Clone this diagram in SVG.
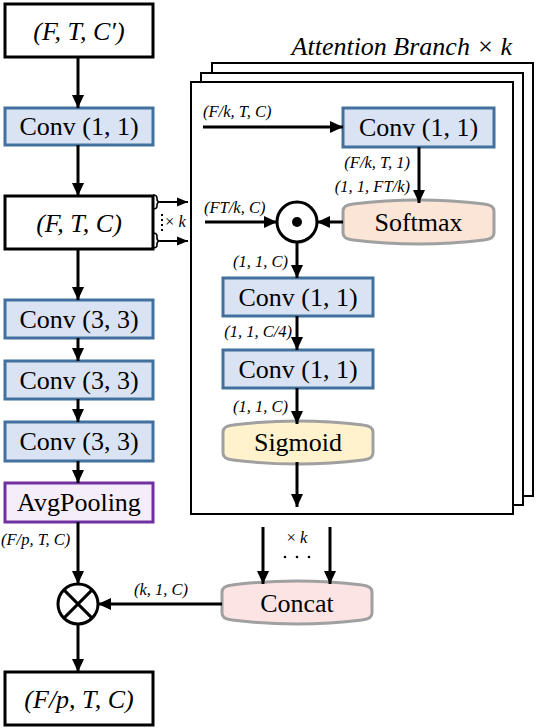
<svg xmlns="http://www.w3.org/2000/svg" width="536" height="728" viewBox="0 0 536 728">
<style>
.t{font-size:26px;fill:#000}
.i{font-style:italic}
.s{font-size:16.5px;font-style:italic;fill:#000}
.bx{fill:#fff;stroke:#000;stroke-width:3}
.conv{fill:#dae3f3;stroke:#41719c;stroke-width:3}
.pool{fill:#f5eefa;stroke:#7030a0;stroke-width:3}
.pg{fill:#fff;stroke:#000;stroke-width:2}
.ln{fill:none;stroke:#000;stroke-width:3}
.ar{fill:none;stroke:#000;stroke-width:3;marker-end:url(#ah)}
.ar2{fill:none;stroke:#000;stroke-width:2;marker-end:url(#ah2)}
.pill{stroke:#a0a0a0;stroke-width:3}
</style>
<defs>
<marker id="ah" markerUnits="userSpaceOnUse" markerWidth="14" markerHeight="14" viewBox="0 0 14 14" refX="13" refY="7" orient="auto">
<path d="M0,1 L13,7 L0,13 Z" fill="#000"/>
</marker>
<marker id="ah2" markerUnits="userSpaceOnUse" markerWidth="12" markerHeight="12" viewBox="0 0 12 12" refX="11" refY="6" orient="auto">
<path d="M0,1.5 L11,6 L0,10.5 Z" fill="#000"/>
</marker>
</defs>
<rect width="536" height="728" fill="#fff"/>
<g font-family="Liberation Serif, Tinos, Noto Serif, DejaVu Serif, FreeSerif, Times New Roman, Times, serif">

<g id="attention-branch-pages">
<rect class="pg" x="212" y="63" width="321" height="433"/>
<rect class="pg" x="201" y="73" width="322" height="432"/>
<rect class="pg" x="191" y="82" width="322" height="432"/>
<text class="t i" x="512" y="55" text-anchor="end">Attention Branch × k</text>
</g>

<g id="input">
<rect class="bx" x="5" y="4" width="148" height="53"/>
<text class="t i" x="79" y="40" text-anchor="middle">(F, T, C′)</text>
</g>
<g id="conv11">
<rect class="conv" x="5" y="108" width="148" height="37"/>
<text class="t" x="79" y="135" text-anchor="middle">Conv (1, 1)</text>
</g>
<g id="ftc">
<rect class="bx" x="5" y="196" width="148" height="53"/>
<text class="t i" x="79" y="232" text-anchor="middle">(F, T, C)</text>
</g>
<g id="conv33a">
<rect class="conv" x="5" y="300" width="148" height="38"/>
<text class="t" x="79" y="328" text-anchor="middle">Conv (3, 3)</text>
</g>
<g id="conv33b">
<rect class="conv" x="5" y="361" width="148" height="38"/>
<text class="t" x="79" y="389" text-anchor="middle">Conv (3, 3)</text>
</g>
<g id="conv33c">
<rect class="conv" x="5" y="422" width="148" height="39"/>
<text class="t" x="79" y="450" text-anchor="middle">Conv (3, 3)</text>
</g>
<g id="avgpool">
<rect class="pool" x="5" y="483" width="148" height="39"/>
<text class="t" x="79" y="511" text-anchor="middle">AvgPooling</text>
</g>
<g id="otimes">
<circle cx="78" cy="604" r="20" fill="#fff" stroke="#000" stroke-width="3"/>
<path class="ln" d="M63.9,589.9 L92.1,618.1 M92.1,589.9 L63.9,618.1"/>
</g>
<g id="output">
<rect class="bx" x="5" y="672" width="148" height="53"/>
<text class="t i" x="79" y="708" text-anchor="middle">(F/p, T, C)</text>
</g>

<g id="inner-conv1">
<rect class="conv" x="343" y="108" width="151" height="39"/>
<text class="t" x="418.5" y="136" text-anchor="middle">Conv (1, 1)</text>
</g>
<g id="softmax">
<path class="pill" fill="#fbe5d6" d="M343,211 Q343,205 353,204 Q418.5,196 484,204 Q494,205 494,211 L494,233 Q494,239 484,240 Q418.5,248 353,240 Q343,239 343,233 Z"/>
<text class="t" x="418.5" y="231" text-anchor="middle">Softmax</text>
</g>
<g id="odot">
<circle cx="297" cy="222" r="20" fill="#fff" stroke="#000" stroke-width="3"/>
<circle cx="297" cy="222" r="5" fill="#000"/>
</g>
<g id="inner-conv2">
<rect class="conv" x="223" y="278" width="150" height="38"/>
<text class="t" x="298" y="306" text-anchor="middle">Conv (1, 1)</text>
</g>
<g id="inner-conv3">
<rect class="conv" x="223" y="350" width="150" height="38"/>
<text class="t" x="298" y="378" text-anchor="middle">Conv (1, 1)</text>
</g>
<g id="sigmoid">
<path class="pill" fill="#fff2cc" d="M223,432 Q223,426 233,425 Q298,417 363,425 Q373,426 373,432 L373,453 Q373,459 363,460 Q298,468 233,460 Q223,459 223,453 Z"/>
<text class="t" x="298" y="451" text-anchor="middle">Sigmoid</text>
</g>
<g id="concat">
<path class="pill" fill="#fde4e4" d="M222,592 Q222,586 232,585 Q297,577 362,585 Q372,586 372,592 L372,613 Q372,619 362,620 Q297,628 232,620 Q222,619 222,613 Z"/>
<text class="t" x="297" y="612" text-anchor="middle">Concat</text>
</g>

<g id="connectors">
<path class="ar" d="M78,57 V108"/>
<path class="ar" d="M78,145 V196"/>
<path class="ar" d="M78,249 V300"/>
<path class="ar" d="M78,338 V361"/>
<path class="ar" d="M78,399 V422"/>
<path class="ar" d="M78,461 V483"/>
<path class="ar" d="M78,522 V584"/>
<path class="ar" d="M78,624 V672"/>
<path class="ar" d="M222,604 H98"/>
<path class="ar" d="M263,527 V584"/>
<path class="ar" d="M330,527 V584"/>
<path class="ar" d="M203,127 H343"/>
<path class="ar" d="M419,147 V203"/>
<path class="ar" d="M343,222 H317"/>
<path class="ar" d="M205,222 H277"/>
<path class="ar" d="M297,242 V278"/>
<path class="ar" d="M297,316 V350"/>
<path class="ar" d="M297,388 V424"/>
<path class="ar" d="M297,462 V507"/>
<path fill="none" stroke="#000" stroke-width="1.6" d="M153,195 Q157,195 157,198 L157,199 Q157,202 160,202 Q157,202 157,205 L157,206 Q157,209 153,209"/>
<path fill="none" stroke="#000" stroke-width="1.6" d="M153,233 Q157,233 157,236 L157,238 Q157,241 160,241 Q157,241 157,244 L157,245 Q157,248 153,248"/>
<path class="ar2" d="M160,202 H188"/>
<path class="ar2" d="M160,241 H188"/>
<path fill="none" stroke="#000" stroke-width="2" stroke-dasharray="2,3" d="M162,214 V231"/>
<g fill="#000">
<circle cx="285" cy="557" r="1.3"/>
<circle cx="297" cy="557" r="1.3"/>
<circle cx="309" cy="557" r="1.3"/>
</g>
</g>

<g id="labels">
<text class="s" x="165" y="227" font-size="13.5"><tspan font-style="normal">×</tspan> k</text>
<text class="s" x="203" y="117">(F/k, T, C)</text>
<text class="s" x="410" y="168" text-anchor="end">(F/k, T, 1)</text>
<text class="s" x="410" y="192" text-anchor="end">(1, 1, FT/k)</text>
<text class="s" x="204" y="213">(FT/k, C)</text>
<text class="s" x="288" y="267" text-anchor="end">(1, 1, C)</text>
<text class="s" x="292" y="337" text-anchor="end">(1, 1, C/4)</text>
<text class="s" x="288" y="412" text-anchor="end">(1, 1, C)</text>
<text class="s" x="1" y="545">(F/p, T, C)</text>
<text class="s" x="161" y="595" text-anchor="middle">(k, 1, C)</text>
<text class="s" x="297" y="543" text-anchor="middle"><tspan font-style="normal">×</tspan> k</text>
</g>
</g>
</svg>
